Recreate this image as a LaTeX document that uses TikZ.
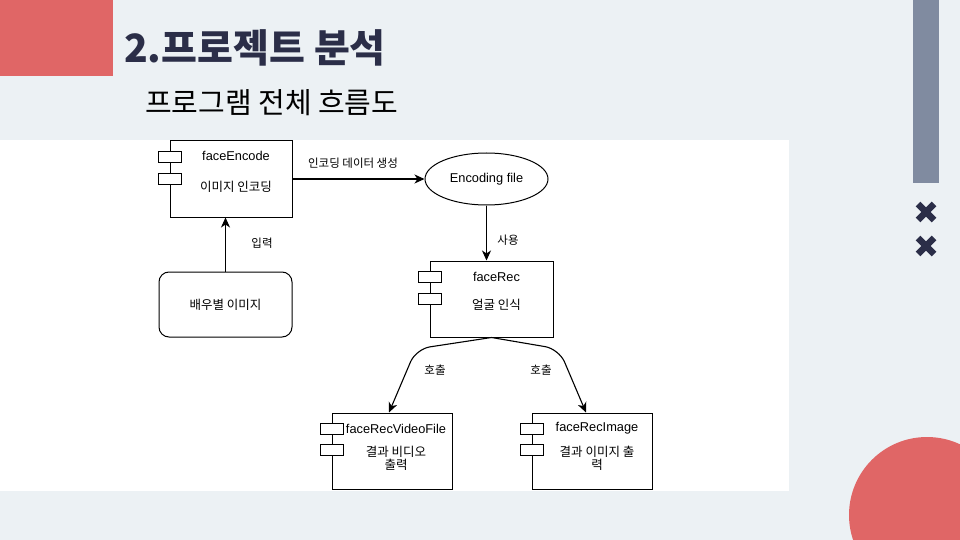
\documentclass[tikz,border=0pt]{standalone}
\usepackage{fontspec}
\setmainfont{Liberation Sans}
\newfontfamily\kr{Noto Sans CJK KR}
\usetikzlibrary{arrows.meta,positioning,shapes.geometric,calc}
\definecolor{slidebg}{RGB}{236,241,244}
\definecolor{slidered}{RGB}{224,102,102}
\definecolor{slidegrey}{RGB}{128,139,160}
\definecolor{slidenavy}{RGB}{43,46,72}
\tikzset{
  compbox/.style={draw, line width=1pt, fill=white, minimum width=122pt, minimum height=76pt, inner sep=0pt},
  port/.style={draw, line width=1pt, fill=white, minimum width=23pt, minimum height=11pt, inner sep=0pt},
  lbl/.style={font=\fontsize{12.8}{15}\selectfont, inner sep=0pt, align=center},
  krlbl/.style={font=\kr\fontsize{12.5}{13.5}\selectfont, inner sep=0pt, align=center},
  edgelbl/.style={font=\kr\fontsize{11.5}{13}\selectfont, inner sep=0pt},
  flow/.style={-{Stealth[length=10pt,width=9pt,inset=3pt]}, line width=1.1pt},
  xmark/.style={line width=6.5pt, slidenavy}
}

\begin{document}
\begin{tikzpicture}[x=1pt,y=-1pt]
  \useasboundingbox (0,0) rectangle (960,540);

  %--- Slide decoration ---
  \fill[slidebg] (0,0) rectangle (960,540);
  \fill[slidered] (0,0) rectangle (113,76);
  \fill[slidegrey] (913,0) rectangle (939,183);
  \fill[slidered] (927,515) circle[radius=78pt];
  \draw[xmark] (918,204) -- (934,220) (934,204) -- (918,220);
  \draw[xmark] (918,238) -- (934,254) (934,238) -- (918,254);

  % Titles
  \node[anchor=west, inner sep=0pt, font=\kr\bfseries\fontsize{39}{44}\selectfont, text=slidenavy] (title) at (124,48) {2.프로젝트 분석};
  \node[anchor=west, inner sep=0pt, font=\kr\fontsize{29}{34}\selectfont] (subtitle) at (145,103) {프로그램 전체 흐름도};

  %--- Diagram panel ---
  \fill[white] (0,140) rectangle (789,491);

  % faceEncode
  \node[compbox] (enc) at (231,179) {};
  \node[port] (encp1) at ($(enc.north west)+(0,16.5)$) {};
  \node[port] (encp2) at ($(enc.north west)+(0,38.5)$) {};
  \node[lbl] (encname) at ($(enc.north)+(5,15)$) {faceEncode};
  \node[krlbl] (encdesc) at ($(enc.north)+(5,46)$) {이미지 인코딩};

  % Actor images
  \node[draw, line width=1pt, rounded corners=10pt, minimum width=133pt, minimum height=65pt, krlbl] (actors) at (225.5,304.5) {배우별 이미지};

  % Encoding file
  \node[draw, line width=1pt, ellipse, minimum width=123pt, minimum height=52pt, lbl] (file) at (486.5,179) {Encoding file};

  % faceRec
  \node[compbox, minimum width=123pt] (rec) at (491.5,299) {};
  \node[port] (recp1) at ($(rec.north west)+(0,16.5)$) {};
  \node[port] (recp2) at ($(rec.north west)+(0,38.5)$) {};
  \node[lbl] (recname) at ($(rec.north)+(5,16)$) {faceRec};
  \node[krlbl] (recdesc) at ($(rec.north)+(5,44)$) {얼굴 인식};

  % faceRecVideoFile
  \node[compbox, minimum width=120pt] (video) at (392,451) {};
  \node[port] (videop1) at ($(video.north west)+(0,16.5)$) {};
  \node[port] (videop2) at ($(video.north west)+(0,37.5)$) {};
  \node[lbl] (videoname) at ($(video.north)+(4,16)$) {faceRecVideoFile};
  \node[krlbl] (videodesc) at ($(video.north)+(4,46)$) {결과 비디오\\출력};

  % faceRecImage
  \node[compbox, minimum width=120pt] (image) at (592,451) {};
  \node[port] (imagep1) at ($(image.north west)+(0,16.5)$) {};
  \node[port] (imagep2) at ($(image.north west)+(0,37.5)$) {};
  \node[lbl] (imagename) at ($(image.north)+(5,16)$) {faceRecImage};
  \node[krlbl] (imagedesc) at ($(image.north)+(5,46)$) {결과 이미지 출\\력};

  % Connectors
  \draw[flow] (actors.north) -- (actors.north |- enc.south);
  \node[edgelbl] (inlbl) at (262,243) {입력};

  \draw[flow] (enc.east) -- (file.west);
  \node[edgelbl] (enclbl) at (353,163) {인코딩 데이터 생성};

  \draw[flow] (file.south) -- (file.south |- rec.north);
  \node[edgelbl] (uselbl) at (508,240) {사용};

  \coordinate (lbend) at (416,349);
  \coordinate (rbend) at (559,349);
  \draw[flow, rounded corners=14pt] (rec.south) -- (lbend) -- ($(video.north)+(-3,0)$);
  \draw[flow, rounded corners=14pt] (rec.south) -- (rbend) -- ($(image.north)+(-6,0)$);
  \node[edgelbl] (call1) at (435,370) {호출};
  \node[edgelbl] (call2) at (541,370) {호출};
\end{tikzpicture}
\end{document}
